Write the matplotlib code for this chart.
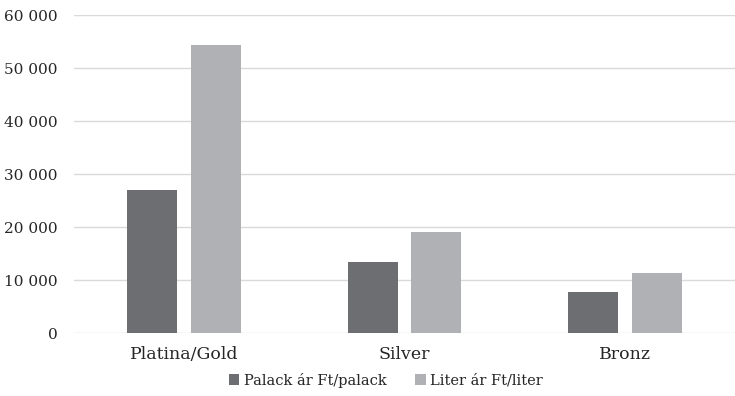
import numpy as np
import matplotlib.pyplot as plt
from matplotlib.ticker import FuncFormatter

# === DATA ===
categories = ["Platina/Gold", "Silver", "Bronz"]
palack_ar = [27000, 13400, 7700]     # Ft/palack
liter_ar = [54400, 19100, 11400]     # Ft/liter
series_names = ["Palack ár Ft/palack", "Liter ár Ft/liter"]

DARK = "#6d6e71"
LIGHT = "#b0b1b4"

plt.rcParams['font.family'] = ['DejaVu Serif']

fig = plt.figure(figsize=(7.35, 3.96), dpi=100)
ax = fig.add_axes([0.1007, 0.159, 0.8993, 0.803])

x = np.arange(len(categories))
w = 0.227
off = 0.145
ax.bar(x - off, palack_ar, w, color=DARK, label=series_names[0], zorder=3)
ax.bar(x + off, liter_ar, w, color=LIGHT, label=series_names[1], zorder=3)

ax.set_xlim(-0.5, 2.5)
ax.set_ylim(0, 60000)
ax.set_yticks(np.arange(0, 60001, 10000))
ax.yaxis.set_major_formatter(FuncFormatter(lambda v, p: f"{int(v):,}".replace(",", " ")))
ax.set_xticks(x)
ax.set_xticklabels(categories, fontsize=12.5)

ax.grid(axis='y', color='#d9d9d9', linewidth=1, zorder=0)
for s in ax.spines.values():
    s.set_visible(False)
ax.tick_params(axis='both', length=0, colors='#262626')
ax.tick_params(axis='y', labelsize=11, pad=12)
ax.tick_params(axis='x', pad=9)

fig.legend(loc='lower center', bbox_to_anchor=(0.525, -0.012), ncol=2, frameon=False,
           fontsize=10.5, handlelength=0.7, handleheight=0.7, handletextpad=0.3,
           columnspacing=2.0, labelcolor='#262626')

plt.savefig("out.png", dpi=100)
